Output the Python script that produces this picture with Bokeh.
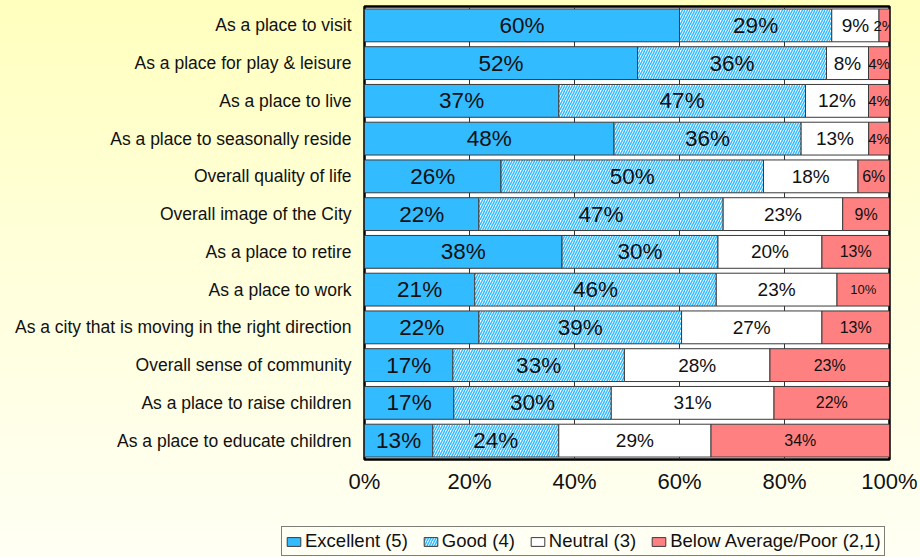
import numpy as np
from bokeh.plotting import figure
from bokeh.layouts import column
from bokeh.models import ColumnDataSource, FactorRange, Legend, LegendItem, FixedTicker, PrintfTickFormatter
from bokeh.core.properties import value
from bokeh.embed import file_html
from bokeh.resources import INLINE

# Survey ratings, one row per aspect of the city (top to bottom)
categories = [
    "As a place to visit",
    "As a place for play & leisure",
    "As a place to live",
    "As a place to seasonally reside",
    "Overall quality of life",
    "Overall image of the City",
    "As a place to retire",
    "As a place to work",
    "As a city that is moving in the right direction",
    "Overall sense of community",
    "As a place to raise children",
    "As a place to educate children",
]
excellent = [60, 52, 37, 48, 26, 22, 38, 21, 22, 17, 17, 13]
good = [29, 36, 47, 36, 50, 47, 30, 46, 39, 33, 30, 24]
neutral = [9, 8, 12, 13, 18, 23, 20, 23, 27, 28, 31, 29]
below = [2, 4, 4, 4, 6, 9, 13, 10, 13, 23, 22, 34]
series_names = ["Excellent (5)", "Good (4)", "Neutral (3)", "Below Average/Poor (2,1)"]
x_tick_values = [0, 20, 40, 60, 80, 100]

FONT = "Liberation Sans"
series = [excellent, good, neutral, below]

# 100% stacked: each row is scaled so its segments fill the full width
vals = np.array(series, dtype=float)
totals = vals.sum(axis=0)
shares = vals / totals * 100.0
rights = np.cumsum(shares, axis=0)
lefts = rights - shares

# label text sizes per series; the last series uses a per-row size
label_sizes = ["22.5px", "22.5px", "19px", None]
below_label_sizes = ["15px", "15px", "15px", "15px", "16px", "16px", "16px", "13px",
                     "16px", "16px", "16px", "16px"]

fills = ["#33BBFF", "white", "white", "#FF8080"]


def bar_style(i):
    kw = dict(fill_color=fills[i], line_color="#3a3a3a", line_width=1)
    if i == 1:
        kw.update(hatch_pattern="right_diagonal_line", hatch_color="#33BBFF",
                  hatch_weight=1.5, hatch_scale=5)
    return kw


p = figure(
    width=920, height=520,
    y_range=FactorRange(*reversed(categories), range_padding=0),
    x_range=(0, 100),
    output_backend="svg", toolbar_location=None,
    min_border_left=364, min_border_right=31, min_border_top=6, min_border_bottom=61,
)
p.frame_align = False
p.border_fill_color = None
p.background_fill_color = "white"
p.outline_line_color = "black"
p.outline_line_width = 2.5

p.ygrid.grid_line_color = None
p.xgrid.ticker = FixedTicker(ticks=x_tick_values)
p.xgrid.grid_line_color = "#333333"
p.xgrid.grid_line_width = 1

for i, name in enumerate(series_names):
    src = ColumnDataSource(dict(y=categories, left=lefts[i], right=rights[i]))
    p.hbar(y="y", left="left", right="right", height=0.87, source=src, **bar_style(i))

    sizes = below_label_sizes if label_sizes[i] is None else [label_sizes[i]] * len(categories)
    tsrc = ColumnDataSource(dict(
        x=(lefts[i] + rights[i]) / 2,
        y=categories,
        t=["%d%%" % v for v in series[i]],
        s=sizes,
    ))
    p.text(x="x", y="y", text="t", source=tsrc, text_align="center", text_baseline="middle",
           text_font=value(FONT), text_font_size="s", text_color="#111111")

xa = p.xaxis[0]
xa.ticker = FixedTicker(ticks=x_tick_values)
xa.formatter = PrintfTickFormatter(format="%d%%")
xa.major_label_text_font = FONT
xa.major_label_text_font_size = "22px"
xa.major_label_text_color = "#111111"
xa.major_tick_line_color = None
xa.minor_tick_line_color = None
xa.axis_line_color = None
xa.major_label_standoff = 3

ya = p.yaxis[0]
ya.major_label_text_font = FONT
ya.major_label_text_font_size = "17.5px"
ya.major_label_text_color = "#111111"
ya.major_tick_line_color = None
ya.axis_line_color = None
ya.major_label_standoff = 7

# Legend strip underneath the chart; its key glyphs sit outside the visible range
lg = figure(
    width=920, height=37, x_range=(0, 1), y_range=(0, 1),
    x_axis_location=None, y_axis_location=None,
    output_backend="svg", toolbar_location=None,
    min_border=0, min_border_left=0, min_border_right=0, min_border_top=0, min_border_bottom=0,
)
lg.frame_align = False
lg.grid.visible = False
lg.outline_line_color = None
lg.border_fill_color = None
lg.background_fill_color = None

keys = [lg.hbar(y=[5], left=[5], right=[6], height=0.5, **bar_style(i)) for i in range(len(series_names))]
legend = Legend(
    items=[LegendItem(label=n, renderers=[r]) for n, r in zip(series_names, keys)],
    orientation="horizontal",
    location=(281, 1),
    label_text_font=FONT, label_text_font_size="18.5px", label_text_color="#111111",
    glyph_width=17, glyph_height=11, label_standoff=3, spacing=14,
    padding=3, margin=0,
    border_line_color="black", border_line_width=1.5,
    background_fill_color="#FFFFF4", background_fill_alpha=1,
)
lg.add_layout(legend, "center")

page = column(p, lg, spacing=0)
page.styles = {"background": "linear-gradient(to bottom, #FFFFBE 0%, #FFFFDA 45%, #FFFFF4 100%)"}

open("out.html", "w").write(file_html(page, INLINE))
